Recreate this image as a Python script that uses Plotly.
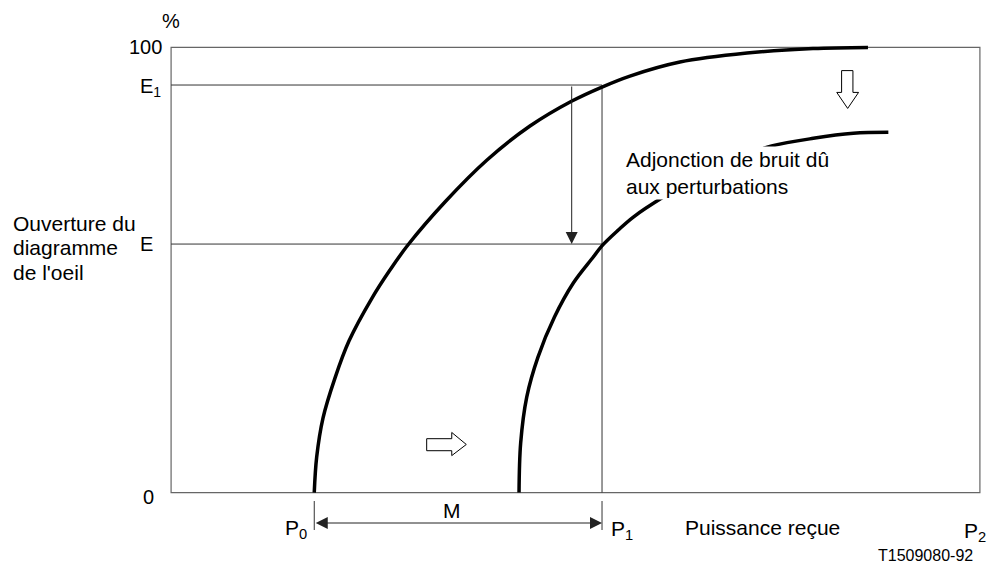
import plotly.graph_objects as go

# eye opening vs received power, values in % of axis span
curve1_x = [17.70, 18.00, 18.78, 20.26, 21.99, 24.84, 27.06, 29.28, 33.86, 39.06, 44.37,
            49.56, 53.27, 56.73, 62.91, 71.20, 79.36, 86.16]
curve1_y = [0, 7.98, 16.74, 25.72, 34.04, 43.70, 49.99, 55.61, 65.27, 74.71, 82.34,
            87.96, 91.10, 93.57, 96.72, 98.74, 99.75, 100]

curve2_x = [43.02, 43.22, 43.97, 45.36, 47.40, 49.73, 52.20, 53.24, 55.29, 57.15, 60.86,
            65.40, 70.35, 74.26, 79.40, 84.35, 88.68]
curve2_y = [0, 11.12, 21.46, 30.44, 39.43, 47.07, 52.91, 55.38, 58.98, 61.90, 66.39,
            71.11, 75.38, 77.85, 79.58, 80.70, 80.93]

P0 = 17.70
P1 = 53.28
E = 55.83
E1 = 91.56
arrow_x = 49.53

FONT = "Liberation Sans, Arial, sans-serif"
W, H = 995, 564
ML, MR, MT, MB = 155, 15, 35, 75
OFF = 8  # page body margin


def pxx(px):
    return (px - OFF - ML) / (W - ML - MR)


def pxy(py):
    return (H - MB - (py - OFF)) / (H - MT - MB)


fig = go.Figure()
for xs, ys in [(curve1_x, curve1_y), (curve2_x, curve2_y)]:
    fig.add_trace(go.Scatter(x=xs, y=ys, mode="lines", line_shape="spline",
                             line=dict(color="black", width=3.5, smoothing=1.0),
                             hoverinfo="skip", showlegend=False))

shapes = [
    dict(type="rect", x0=0, x1=100, y0=0, y1=100, xref="x", yref="y",
         line=dict(color="#666", width=1.2), layer="below"),
    dict(type="line", x0=0, x1=P1, y0=E1, y1=E1, line=dict(color="#333", width=1), layer="below"),
    dict(type="line", x0=0, x1=P1, y0=E, y1=E, line=dict(color="#333", width=1), layer="below"),
    dict(type="line", x0=P1, x1=P1, y0=0, y1=E1, line=dict(color="#333", width=1), layer="below"),
]
for xv in [P0, P1]:
    shapes.append(dict(type="line", xref="x", yref="paper", x0=xv, x1=xv,
                       y0=pxy(501), y1=pxy(530), line=dict(color="#333", width=1)))


def right_arrow(cx, cy):
    pts = [(cx - 2.4, cy - 1.4), (cx + 0.7, cy - 1.4), (cx + 0.7, cy - 2.5), (cx + 2.5, cy),
           (cx + 0.7, cy + 2.7), (cx + 0.7, cy + 1.3), (cx - 2.4, cy + 1.3)]
    return "M" + " L".join(f"{a},{b}" for a, b in pts) + " Z"


def down_arrow(cx, cy):
    pts = [(cx - 0.75, cy + 4.2), (cx + 0.65, cy + 4.2), (cx + 0.65, cy - 0.7), (cx + 1.35, cy - 0.7),
           (cx, cy - 4.3), (cx - 1.35, cy - 0.7), (cx - 0.75, cy - 0.7)]
    return "M" + " L".join(f"{a},{b}" for a, b in pts) + " Z"


for p in [right_arrow(34.0, 10.8), down_arrow(83.65, 90.6)]:
    shapes.append(dict(type="path", path=p, xref="x", yref="y",
                       fillcolor="white", line=dict(color="black", width=1)))

tf = dict(family=FONT, size=20, color="black")
tb = dict(family=FONT, size=21, color="black")
ann = [
    dict(text="%", x=pxx(171), y=pxy(21), xref="paper", yref="paper", font=tf),
    dict(text="100", x=pxx(164), y=100, xref="paper", yref="y", xanchor="right", font=tf),
    dict(text="E<sub>1</sub>", x=pxx(163), y=E1, yshift=-2, xref="paper", yref="y", xanchor="right", font=tf),
    dict(text="E", x=pxx(155), y=E, xref="paper", yref="y", xanchor="right", font=tf),
    dict(text="0", x=pxx(156), y=0, yshift=-4, xref="paper", yref="y", xanchor="right", font=tf),
    dict(text="Ouverture du", x=pxx(11), y=pxy(223), xref="paper", yref="paper", xanchor="left", font=tb),
    dict(text="diagramme", x=pxx(11), y=pxy(248), xref="paper", yref="paper", xanchor="left", font=tb),
    dict(text="de l'oeil", x=pxx(11), y=pxy(272), xref="paper", yref="paper", xanchor="left", font=tb),
    dict(text="P<sub>0</sub>", x=P0, xshift=-5, y=pxy(529), xref="x", yref="paper", xanchor="right", font=tb),
    dict(text="M", x=pxx(451.5), y=pxy(510), xref="paper", yref="paper", font=tb),
    dict(text="P<sub>1</sub>", x=P1, xshift=7, y=pxy(530), xref="x", yref="paper", xanchor="left", font=tb),
    dict(text="Puissance reçue", x=pxx(683), y=pxy(527), xref="paper", yref="paper", xanchor="left", font=tb),
    dict(text="P<sub>2</sub>", x=pxx(962), y=pxy(532), xref="paper", yref="paper", xanchor="left", font=tb),
    dict(text="T1509080-92", x=pxx(975), y=pxy(555), xref="paper", yref="paper", xanchor="right",
         font=dict(family=FONT, size=16, color="black")),
    dict(text="Adjonction de bruit dû<br>aux perturbations", x=pxx(624), y=pxy(173.5),
         xref="paper", yref="paper", xanchor="left", align="left", bgcolor="white", font=tb),
    # measure arrow E1 -> E
    dict(text="", x=arrow_x, y=E, ax=arrow_x, ay=E1, xref="x", yref="y", axref="x", ayref="y",
         showarrow=True, arrowhead=2, arrowsize=2.4, arrowwidth=1, arrowcolor="#222", standoff=0),
    # margin M between P0 and P1
    dict(text="", x=P1, y=pxy(523), ax=P0, ay=0, xref="x", yref="paper", axref="x", ayref="pixel",
         showarrow=True, arrowhead=2, startarrowhead=2, arrowside="end+start", arrowsize=2.4,
         startarrowsize=2.4, arrowwidth=1, arrowcolor="#222", standoff=0, startstandoff=0),
]
for a in ann:
    a.setdefault("showarrow", False)
    a.setdefault("xanchor", "center")
    a.setdefault("yanchor", "middle")

fig.update_layout(
    width=W, height=H, margin=dict(l=ML, r=MR, t=MT, b=MB),
    paper_bgcolor="white", plot_bgcolor="white",
    xaxis=dict(range=[-1, 101], visible=False, fixedrange=True),
    yaxis=dict(range=[-1, 101], visible=False, fixedrange=True),
    shapes=shapes, annotations=ann, showlegend=False,
)
fig.write_html("out.html")
